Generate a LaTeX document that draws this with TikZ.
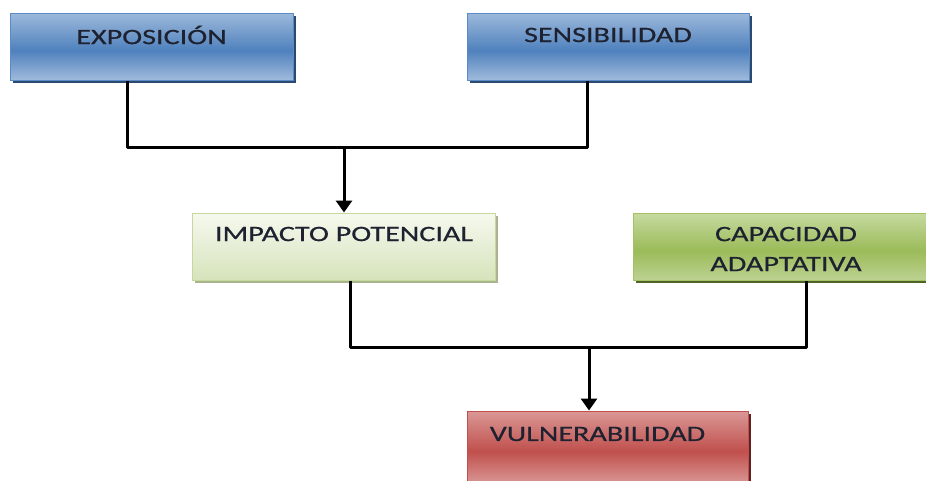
\documentclass[tikz,border=0pt]{standalone}
\usepackage{fontspec}
\setmainfont{Carlito}[FakeStretch=1.37,FakeBold=0.5]
\usetikzlibrary{arrows.meta,shadows}
\definecolor{bluetop}{HTML}{9DB9DB}
\definecolor{bluemid}{HTML}{4F81BD}
\definecolor{bluebot}{HTML}{A0BBDC}
\definecolor{blueedge}{HTML}{5B8BC6}
\definecolor{blueshadow}{HTML}{2C4A70}
\definecolor{greentop}{HTML}{C6DAA0}
\definecolor{greenmid}{HTML}{9BBB59}
\definecolor{greenbot}{HTML}{BDD292}
\definecolor{greenedge}{HTML}{A3C265}
\definecolor{greenshadow}{HTML}{4F6228}
\definecolor{paletop}{HTML}{F6F9EE}
\definecolor{palemid}{HTML}{E6EED6}
\definecolor{palebot}{HTML}{D6E3BA}
\definecolor{paleedge}{HTML}{C5D89E}
\definecolor{paleshadow}{HTML}{A9B48F}
\definecolor{redtop}{HTML}{DA9896}
\definecolor{redmid}{HTML}{C0504D}
\definecolor{redbot}{HTML}{D99694}
\definecolor{rededge}{HTML}{C0504D}
\definecolor{redshadow}{HTML}{5E2220}
\definecolor{txt}{HTML}{1E2230}
\pgfdeclareverticalshading{blueshade}{100bp}{color(0bp)=(bluebot); color(25bp)=(bluebot); color(47bp)=(bluemid); color(75bp)=(bluetop); color(100bp)=(bluetop)}
\pgfdeclareverticalshading{greenshade}{100bp}{color(0bp)=(greenbot); color(25bp)=(greenbot); color(47bp)=(greenmid); color(75bp)=(greentop); color(100bp)=(greentop)}
\pgfdeclareverticalshading{paleshade}{100bp}{color(0bp)=(palebot); color(25bp)=(palebot); color(50bp)=(palemid); color(75bp)=(paletop); color(100bp)=(paletop)}
\pgfdeclareverticalshading{redshade}{100bp}{color(0bp)=(redbot); color(25bp)=(redbot); color(47bp)=(redmid); color(75bp)=(redtop); color(100bp)=(redtop)}
\tikzset{
  box/.style={rectangle, inner sep=0pt, line width=1pt},
  bluebox/.style={box, draw=blueedge, shading=blueshade,
    drop shadow={shadow xshift=2.5pt, shadow yshift=-3pt, opacity=1, fill=blueshadow}},
  greenbox/.style={box, draw=greenedge, shading=greenshade,
    drop shadow={shadow xshift=2.5pt, shadow yshift=-3pt, opacity=1, fill=greenshadow}},
  palebox/.style={box, draw=paleedge, shading=paleshade,
    drop shadow={shadow xshift=2.5pt, shadow yshift=-3pt, opacity=1, fill=paleshadow}},
  redbox/.style={box, draw=rededge, shading=redshade,
    drop shadow={shadow xshift=2.5pt, shadow yshift=-3pt, opacity=1, fill=redshadow}},
  lbl/.style={inner sep=0pt, text=txt, font=\fontsize{22}{30}\selectfont, align=center},
  conn/.style={line width=3pt, draw=black, line join=round},
  arr/.style={conn, -{Triangle[width=16pt,length=12pt]}}
}
\begin{document}
\begin{tikzpicture}[x=1pt,y=-1pt]
\useasboundingbox (0,0) rectangle (926,480);
\clip (0,0) rectangle (926,480);
\fill[white] (0,0) rectangle (926,480);
% boxes
\node[bluebox, minimum width=283pt, minimum height=67pt] (exp) at (151.5,46.5) {};
\node[bluebox, minimum width=282pt, minimum height=67pt] (sen) at (608,46.5) {};
\node[palebox, minimum width=303pt, minimum height=67pt] (imp) at (344,246.5) {};
\node[greenbox, minimum width=340pt, minimum height=67pt] (cap) at (803,246.5) {};
\node[redbox, minimum width=281pt, minimum height=72pt] (vul) at (607.5,447) {};
% labels
\node[lbl] (expt) at (151.5,35) {EXPOSICIÓN};
\node[lbl] (sent) at (608,35) {SENSIBILIDAD};
\node[lbl] (impt) at (344,234) {IMPACTO POTENCIAL};
\node[lbl] (capt) at (786,249) {CAPACIDAD\\ADAPTATIVA};
\node[lbl] (vult) at (597.5,434) {VULNERABILIDAD};
% junctions
\coordinate (j1) at (344,147);
\coordinate (j2) at (589,347);
% connectors
\draw[conn] ([xshift=-24.5pt]exp.south) |- (j1) -| ([xshift=-21pt]sen.south);
\draw[arr] (j1) -- (imp.north);
\draw[conn] ([xshift=6pt]imp.south) |- (j2) -| ([xshift=3pt]cap.south);
\draw[arr] (j2) -- (vul.north -| j2);
\end{tikzpicture}
\end{document}
